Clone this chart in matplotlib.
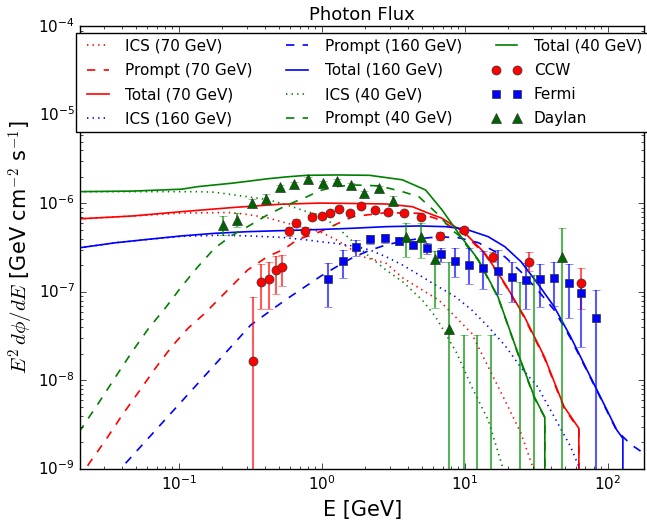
import matplotlib
matplotlib.use("Agg")
import matplotlib.pyplot as plt
import numpy as np

# ---- model curves: E [GeV] and E^2 dphi/dE [GeV cm^-2 s^-1] ----
ics70_E = [0.02, 0.0472, 0.1045, 0.232, 0.303, 0.416, 0.573, 0.787, 0.973, 1.27, 1.94, 2.82,
           3.67, 4.79, 6.59, 8.6, 11.2, 14.6, 19.1, 24.8, 30.0, 32.0]
ics70 = [6.7e-7, 7.2e-7, 7.8e-7, 7.9e-7, 7.5e-7, 6.9e-7, 5.97e-7, 5.25e-7, 4.8e-7, 3.87e-7, 2.5e-7, 2.11e-7,
         1.45e-7, 1.11e-7, 8.1e-8, 5.26e-8, 3.41e-8, 1.43e-8, 6.0e-9, 2.53e-9, 1.05e-9, 8e-10]
prompt70_E = [0.02, 0.0236, 0.0308, 0.0402, 0.0525, 0.0684, 0.0891, 0.116, 0.152, 0.198, 0.303, 0.416,
              0.542, 0.671, 0.973, 1.65, 2.82, 4.79, 6.25, 7.33, 10.1, 13.9, 19.1, 26.2, 36.1, 49.6,
              63.0, 63.0]
prompt70 = [7.5e-10, 1.16e-9, 2.13e-9, 4.08e-9, 7.47e-9, 1.37e-8, 2.41e-8, 3.89e-8, 5.74e-8, 8.85e-8, 1.77e-7,
            2.5e-7, 3.03e-7, 3.87e-7, 4.8e-7, 7.1e-7, 7.87e-7, 7.74e-7, 6.8e-7, 5.97e-7, 4.4e-7, 2.65e-7,
            1.22e-7, 5.1e-8, 1.8e-8, 4.9e-9, 2.8e-9, 1e-12]
total70_E = [0.02, 0.0472, 0.1045, 0.232, 0.514, 0.973, 1.65, 2.82, 4.30, 5.61, 6.95, 10.1, 13.9, 19.1,
             26.2, 36.1, 49.6, 63.0, 63.0]
total70 = [6.7e-7, 7.22e-7, 8.08e-7, 8.97e-7, 9.8e-7, 1.01e-6, 1.0e-6, 9.87e-7, 9.2e-7, 7.74e-7, 6.8e-7,
           4.6e-7, 2.73e-7, 1.25e-7, 5.26e-8, 1.86e-8, 5.06e-9, 2.88e-9, 1e-12]

ics160_E = [0.02, 0.0361, 0.0615, 0.1045, 0.198, 0.303, 0.514, 0.787, 0.973, 1.27, 1.65, 2.16, 2.82,
            3.67, 4.79, 6.25, 8.6, 11.2, 14.6, 19.1, 24.8, 32.4, 42.3, 55.1, 64.0, 70.0]
ics160 = [3.15e-7, 3.6e-7, 3.93e-7, 4.25e-7, 4.38e-7, 4.3e-7, 4.15e-7, 3.87e-7, 3.7e-7, 3.53e-7, 3.31e-7,
          2.99e-7, 2.5e-7, 2.02e-7, 1.56e-7, 1.2e-7, 8.85e-8, 6.27e-8, 4.06e-8, 2.5e-8, 1.4e-8, 8.5e-9,
          3.9e-9, 1.79e-9, 1.0e-9, 7e-10]
prompt160_E = [0.0424, 0.0846, 0.1686, 0.319, 0.557, 0.973, 1.27, 1.65, 2.16, 2.82, 3.67, 4.79, 6.59,
               9.06, 12.5, 19.1, 24.8, 32.4, 42.3, 55.1, 71.9, 93.8, 116, 147, 180]
prompt160 = [1.16e-9, 3.97e-9, 1.36e-8, 4.24e-8, 8.13e-8, 1.49e-7, 1.93e-7, 2.45e-7, 2.95e-7, 3.4e-7,
             3.75e-7, 4.0e-7, 4.2e-7, 4.1e-7, 3.6e-7, 2.5e-7, 1.69e-7, 1.05e-7, 6.27e-8, 3.0e-8, 1.28e-8,
             5.4e-9, 2.7e-9, 1.87e-9, 1.5e-9]
total160_E = [0.02, 0.0361, 0.0615, 0.1045, 0.178, 0.303, 0.514, 0.973, 1.65, 2.82, 4.79, 7.33, 10.1,
              14.6, 19.1, 24.8, 32.4, 42.3, 55.1, 71.9, 93.8, 116, 128, 128]
total160 = [3.15e-7, 3.6e-7, 3.94e-7, 4.3e-7, 4.6e-7, 4.8e-7, 4.93e-7, 5.08e-7, 5.25e-7, 5.47e-7, 5.57e-7,
            5.47e-7, 5.15e-7, 4.22e-7, 3.25e-7, 2.2e-7, 1.25e-7, 6.82e-8, 3.13e-8, 1.31e-8, 5.52e-9,
            2.76e-9, 2.22e-9, 1e-12]

ics40_E = [0.02, 0.136, 0.178, 0.303, 0.416, 0.573, 0.787, 0.973, 1.27, 1.65, 2.16, 2.82, 3.67, 5.05,
           6.25, 7.33, 8.82, 11.2, 14.6, 18.1, 20.0]
ics40 = [1.36e-6, 1.36e-6, 1.34e-6, 1.19e-6, 1.11e-6, 9.6e-7, 8.08e-7, 7.41e-7, 5.47e-7, 3.7e-7, 2.5e-7,
         1.77e-7, 1.31e-7, 8.1e-8, 5.26e-8, 3.41e-8, 2.03e-8, 8.5e-9, 3.58e-9, 1.16e-9, 7e-10]
prompt40_E = [0.02, 0.0278, 0.0361, 0.0471, 0.0615, 0.0802, 0.1045, 0.136, 0.178, 0.232, 0.303, 0.416,
              0.573, 0.787, 0.973, 1.27, 1.65, 2.53, 3.67, 4.79, 6.59, 8.15, 9.06, 12.5, 17.1, 23.6,
              30.7, 36.4, 36.4]
prompt40 = [2.6e-9, 5.75e-9, 1.10e-8, 2.11e-8, 3.89e-8, 6.55e-8, 1.15e-7, 1.93e-7, 3.12e-7, 4.3e-7,
            5.47e-7, 7.41e-7, 9.6e-7, 1.19e-6, 1.40e-6, 1.55e-6, 1.62e-6, 1.58e-6, 1.36e-6, 1.19e-6,
            7.4e-7, 5.0e-7, 4.4e-7, 2.25e-7, 8.7e-8, 2.0e-8, 6.4e-9, 3.8e-9, 1e-12]
total40_E = [0.02, 0.0472, 0.1045, 0.136, 0.178, 0.232, 0.303, 0.416, 0.573, 0.787, 1.27, 2.16, 3.67,
             5.33, 6.95, 9.06, 12.5, 17.1, 23.6, 30.7, 36.4, 36.4]
total40 = [1.36e-6, 1.38e-6, 1.45e-6, 1.55e-6, 1.62e-6, 1.69e-6, 1.78e-6, 1.90e-6, 2.0e-6, 2.08e-6,
           2.1e-6, 2.08e-6, 1.85e-6, 1.42e-6, 8.45e-7, 4.6e-7, 2.3e-7, 8.85e-8, 2.03e-8, 6.56e-9,
           3.84e-9, 1e-12]

# ---- data points: value with lower / upper edge of the error bar ----
ccw_E = [0.328, 0.378, 0.43, 0.478, 0.525, 0.591, 0.664, 0.758, 0.861, 1.0, 1.14, 1.32, 1.57, 1.89,
         2.34, 2.89, 3.77, 4.92, 6.77, 9.97, 15.8, 28.1, 65.3]
ccw = [1.65e-8, 1.30e-7, 1.41e-7, 1.77e-7, 1.93e-7, 4.93e-7, 6.07e-7, 4.88e-7, 6.98e-7, 7.23e-7, 7.87e-7,
       8.6e-7, 7.74e-7, 9.37e-7, 8.45e-7, 7.96e-7, 7.87e-7, 7.1e-7, 4.3e-7, 5.02e-7, 2.47e-7, 2.18e-7,
       1.25e-7]
ccw_lo = [1e-12, 6.43e-8, 6.4e-8, 9.42e-8, 1.17e-7, 4.3e-7, 5.5e-7, 4.3e-7, 6.5e-7, 6.8e-7, 7.4e-7,
          8.2e-7, 7.3e-7, 8.9e-7, 8.0e-7, 7.5e-7, 7.4e-7, 6.7e-7, 3.9e-7, 4.6e-7, 2.2e-7, 1.72e-7, 6.5e-8]
ccw_hi = [8.85e-8, 2.06e-7, 2.2e-7, 2.55e-7, 2.65e-7, 5.4e-7, 6.6e-7, 5.4e-7, 7.4e-7, 7.6e-7, 8.3e-7,
          9.0e-7, 8.1e-7, 9.8e-7, 8.9e-7, 8.4e-7, 8.3e-7, 7.5e-7, 4.7e-7, 5.4e-7, 2.8e-7, 2.8e-7, 1.86e-7]

fermi_E = [1.11, 1.40, 1.75, 2.19, 2.77, 3.48, 4.35, 5.47, 6.88, 8.6, 10.8, 13.5, 17.1, 21.5, 26.9,
           33.8, 42.3, 53.7, 65.6, 83.4]
fermi = [1.40e-7, 2.26e-7, 3.25e-7, 3.94e-7, 4.04e-7, 3.8e-7, 3.42e-7, 3.12e-7, 2.67e-7, 2.24e-7,
         2.0e-7, 1.85e-7, 1.73e-7, 1.49e-7, 1.37e-7, 1.40e-7, 1.43e-7, 1.27e-7, 9.66e-8, 5.13e-8]
fermi_lo = [6.8e-8, 1.45e-7, 2.58e-7, 3.5e-7, 3.6e-7, 3.4e-7, 3.1e-7, 2.7e-7, 2.2e-7, 1.49e-7, 1.23e-7,
            1.09e-7, 9.5e-8, 7.7e-8, 6.5e-8, 6.8e-8, 7.0e-8, 5.1e-8, 2.4e-8, 1e-12]
fermi_hi = [2.1e-7, 2.98e-7, 3.9e-7, 4.4e-7, 4.5e-7, 4.2e-7, 3.77e-7, 3.6e-7, 3.1e-7, 3.1e-7, 3.1e-7,
            2.9e-7, 2.97e-7, 2.2e-7, 2.15e-7, 2.06e-7, 2.16e-7, 2.06e-7, 1.2e-7, 1.06e-7]

daylan_E = [0.203, 0.255, 0.323, 0.407, 0.514, 0.636, 0.807, 1.016, 1.27, 1.60, 1.99, 2.51, 3.13, 3.91,
            4.92, 6.18, 7.81, 9.84, 12.3, 15.4, 24.4, 30.8, 48.3]
daylan = [5.71e-7, 6.52e-7, 1.005e-6, 1.125e-6, 1.52e-6, 1.66e-6, 1.89e-6, 1.69e-6, 1.81e-6, 1.62e-6,
          1.32e-6, 1.49e-6, 1.08e-6, 4.15e-7, 4.15e-7, 2.36e-7, 3.79e-8, 5e-10, 5e-10, 5e-10, 5e-10,
          5e-10, 2.47e-7]
daylan_lo = [4.41e-7, 5.38e-7, 9.06e-7, 1.02e-6, 1.44e-6, 1.58e-6, 1.8e-6, 1.6e-6, 1.72e-6, 1.54e-6,
             1.25e-6, 1.41e-6, 9.5e-7, 2.5e-7, 2.4e-7, 6.55e-8, 1e-12, 1e-12, 1e-12, 1e-12, 1e-12, 1e-12,
             1e-12]
daylan_hi = [7.28e-7, 7.87e-7, 1.125e-6, 1.27e-6, 1.6e-6, 1.75e-6, 1.98e-6, 1.78e-6, 1.9e-6, 1.7e-6,
             1.39e-6, 1.57e-6, 1.23e-6, 6.07e-7, 6.0e-7, 2.9e-7, 2.2e-7, 3.27e-8, 3.27e-8, 3.27e-8,
             1.31e-7, 1.56e-7, 5.33e-7]


def bars(values, lo, hi):
    values = np.asarray(values)
    return [values - np.asarray(lo), np.asarray(hi) - values]


plt.style.use("classic")
plt.rcParams["mathtext.fontset"] = "cm"
plt.rcParams["axes.unicode_minus"] = False

figure = plt.figure(figsize=(6.47, 5.25), facecolor="white")
axis = figure.add_axes([0.1244, 0.1067, 0.871, 0.8429])

handles, labels = [], []
for energies, values, style, color, label in [
    (ics70_E, ics70, ":", "r", "ICS (70 GeV)"),
    (prompt70_E, prompt70, "--", "r", "Prompt (70 GeV)"),
    (total70_E, total70, "-", "r", "Total (70 GeV)"),
    (ics160_E, ics160, ":", "b", "ICS (160 GeV)"),
    (prompt160_E, prompt160, "--", "b", "Prompt (160 GeV)"),
    (total160_E, total160, "-", "b", "Total (160 GeV)"),
    (ics40_E, ics40, ":", "g", "ICS (40 GeV)"),
    (prompt40_E, prompt40, "--", "g", "Prompt (40 GeV)"),
    (total40_E, total40, "-", "g", "Total (40 GeV)"),
]:
    (line,) = axis.plot(energies, values, style, color=color, lw=1.2)
    handles.append(line)
    labels.append(label)

for energies, values, lo, hi, marker, color, bar_color, size, label in [
    (ccw_E, ccw, ccw_lo, ccw_hi, "o", "r", (1, 0, 0, 0.65), 6.5, "CCW"),
    (fermi_E, fermi, fermi_lo, fermi_hi, "s", "b", (0, 0, 1, 0.65), 6, "Fermi"),
    (daylan_E, daylan, daylan_lo, daylan_hi, "^", "#006400", (0, 0.55, 0, 0.65), 6.5, "Daylan"),
]:
    container = axis.errorbar(energies, values, yerr=bars(values, lo, hi), fmt=marker, color=color,
                              mec="#333333", ms=size, ecolor=bar_color, elinewidth=1.5, capsize=3)
    handles.append(container.lines[0])
    labels.append(label)

axis.set_xscale("log")
axis.set_yscale("log")
axis.set_xlim(0.0205, 180)
axis.set_ylim(1e-9, 1e-4)
axis.tick_params(labelsize=11)
axis.set_title("Photon Flux", fontsize=13)
axis.set_xlabel("E [GeV]", fontsize=15)
axis.set_ylabel(r"$E^2\, d\phi/dE$ [GeV cm$^{-2}$ s$^{-1}$]", fontsize=15, labelpad=2)

axis.legend(handles, labels, loc="upper center", ncol=3, fontsize=11, numpoints=2,
            handlelength=2.0, handletextpad=0.8, columnspacing=1.9, labelspacing=0.6,
            borderaxespad=0.4, framealpha=1)

figure.savefig("out.png", dpi=100, facecolor="white")
